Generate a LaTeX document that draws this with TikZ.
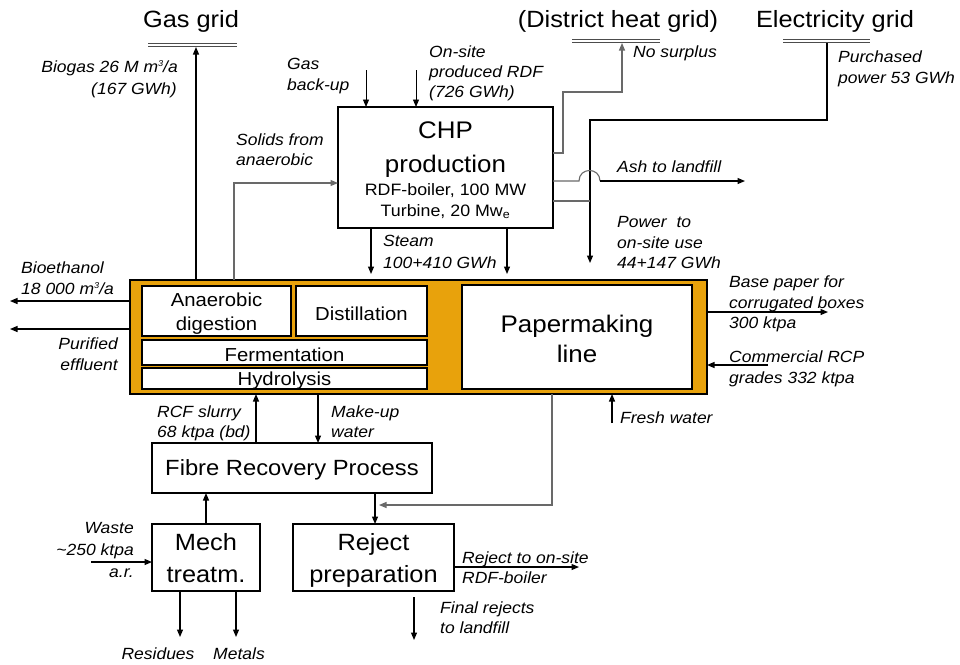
\documentclass[tikz,border=0pt]{standalone}
\usepackage{fontspec}
\setmainfont[FakeStretch=1.08]{Liberation Sans}
\usetikzlibrary{arrows.meta}
\definecolor{orng}{RGB}{232,162,12}
\definecolor{gline}{RGB}{105,105,105}
\newcommand\rslab{\fontsize{16.2}{18}\selectfont\itshape}
\newcommand\rstit{\fontsize{23.5}{28}\selectfont}
\newcommand\rsbig{\fontsize{24}{28}\selectfont}
\newcommand\rsmid{\fontsize{16.5}{20}\selectfont}
\newcommand\rsbox{\fontsize{18.8}{22}\selectfont}
\newcommand\rssup[1]{\raisebox{5.5pt}{\fontsize{8.5}{9}\selectfont #1}}
\begin{document}
\begin{tikzpicture}[x=1pt,y=-1pt,
  box/.style={draw=black,line width=1.4pt,fill=white,anchor=north west,inner sep=0pt,outer sep=0pt},
  arr/.style={line width=1.2pt,-{Triangle[length=7.5pt,width=6pt]}},
  tarr/.style={line width=0.9pt,-{Triangle[length=7.5pt,width=6pt]}},
  garr/.style={arr,draw=gline,line width=1.1pt},
  gl/.style={line width=1.1pt,draw=gline},
  bar/.style={double=white,double distance=2pt,line width=0.9pt,draw=gray!60!black},
  lab/.style={inner sep=0pt,font=\rslab},
  tt/.style={inner sep=0pt,anchor=base,font=\rstit},
  bt/.style={inner sep=0pt,anchor=base},
]
\fill[white] (0,0) rectangle (960,664);
\useasboundingbox (0,0) rectangle (960,664);

% ---------- boxes ----------
\node[box,minimum width=215pt,minimum height=121pt] (chp) at (338,107) {};
\node[draw=black,line width=1.2pt,fill=orng,anchor=north west,inner sep=0pt,outer sep=0pt,minimum width=577pt,minimum height=114pt] (plant) at (130,280) {};
\node[box,minimum width=149pt,minimum height=50pt] (anae) at (142,286) {};
\node[box,minimum width=131pt,minimum height=50pt] (dist) at (296,286) {};
\node[box,minimum width=285pt,minimum height=25pt] (ferm) at (142,340) {};
\node[box,minimum width=285pt,minimum height=21pt] (hydr) at (142,368) {};
\node[box,minimum width=230pt,minimum height=104pt] (pm) at (462,285) {};
\node[box,minimum width=280pt,minimum height=50pt] (fibre) at (152,443) {};
\node[box,minimum width=108pt,minimum height=67pt] (mech) at (152,524) {};
\node[box,minimum width=161pt,minimum height=67pt] (reject) at (293,524) {};

% ---------- box texts ----------
\node[bt,font=\rsbig] (chpA) at (445.5,138) {CHP};
\node[bt,font=\rsbig] (chpB) at (445.5,172) {production};
\node[bt,font=\rsmid] (chpC) at (445.5,195) {RDF-boiler, 100 MW};
\node[bt,font=\rsmid] (chpD) at (445.5,216) {Turbine, 20 Mw\textsubscript{e}};
\node[bt,font=\rsbox] (anaeA) at (216.5,306) {Anaerobic};
\node[bt,font=\rsbox] (anaeB) at (216.5,330) {digestion};
\node[bt,font=\rsbox] (distA) at (361.5,320) {Distillation};
\node[bt,font=\rsbox] (fermA) at (284.5,361) {Fermentation};
\node[bt,font=\rsbox] (hydrA) at (284.5,385) {Hydrolysis};
\node[bt,font=\fontsize{24}{28}\selectfont] (pmA) at (577,332) {Papermaking};
\node[bt,font=\fontsize{24}{28}\selectfont] (pmB) at (577,362) {line};
\node[bt,font=\fontsize{22}{26}\selectfont] (fibA) at (292,475) {Fibre Recovery Process};
\node[bt,font=\fontsize{23.5}{28}\selectfont] (mechA) at (206,550) {Mech};
\node[bt,font=\fontsize{23.5}{28}\selectfont] (mechB) at (206,582) {treatm.};
\node[bt,font=\fontsize{23.5}{28}\selectfont] (rejA) at (373.5,550) {Reject};
\node[bt,font=\fontsize{23.5}{28}\selectfont] (rejB) at (373.5,582) {preparation};

% ---------- grids ----------
\node[tt] (gasgrid) at (191,27) {Gas grid};
\node[tt] (dhgrid) at (618,27) {(District heat grid)};
\node[tt] (elgrid) at (835,27) {Electricity grid};
\coordinate (gbL) at (148,45); \coordinate (gbR) at (237,45);
\coordinate (dbL) at (572,41); \coordinate (dbR) at (660,41);
\coordinate (ebL) at (783,41); \coordinate (ebR) at (870,41);
\draw[bar] (gbL) -- (gbR);
\draw[bar] (dbL) -- (dbR);
\draw[bar] (ebL) -- (ebR);

% ---------- coordinates ----------
\coordinate (bg) at (196,47);
\coordinate (gbt) at (366,70);
\coordinate (rdft) at (416,70);
\coordinate (sol) at (234,183);
\coordinate (st1) at (371,274);
\coordinate (st2) at (507,274);
\coordinate (h1) at (563,153); \coordinate (h2) at (563,92);
\coordinate (h3) at (622,92); \coordinate (h4) at (622,43);
\coordinate (e1) at (827,43); \coordinate (e2) at (827,120);
\coordinate (e3) at (590,120); \coordinate (e4) at (590,263);
\coordinate (p1) at (590,201);
\coordinate (a1) at (579,181); \coordinate (a2) at (600,181); \coordinate (a3) at (745,181);
\coordinate (bio) at (10,301);
\coordinate (eff) at (10,329);
\coordinate (bp) at (828,312);
\coordinate (rcp) at (768,365);
\coordinate (fw) at (612,423);
\coordinate (rcf) at (256,420);
\coordinate (mw) at (318,420);
\coordinate (pr1) at (552,505); \coordinate (pr2) at (379,505);
\coordinate (fr) at (375,510);
\coordinate (ws) at (91,562);
\coordinate (rs) at (180,637);
\coordinate (mt) at (236,637);
\coordinate (ro) at (579,567);
\coordinate (fn0) at (414,597); \coordinate (fn) at (414,640);

% ---------- connectors ----------
\draw[arr] (bg |- plant.north) -- (bg);
\draw[tarr] (gbt) -- (gbt |- chp.north);
\draw[tarr] (rdft) -- (rdft |- chp.north);
\draw[garr] (sol |- plant.north) -- (sol) -- (sol -| chp.west);
\draw[arr] (st1 |- chp.south) -- (st1);
\draw[arr] (st2 |- chp.south) -- (st2);
\draw[garr] (h1 -| chp.east) -- (h1) -- (h2) -- (h3) -- (h4);
\draw[arr] (e1) -- (e2) -- (e3) -- (e4);
\draw[gl] (p1 -| chp.east) -- (p1);
\draw[gl] (a1 -| chp.east) -- (a1) .. controls (579,167) and (600,167) .. (a2);
\draw[arr] (a2) -- (a3);
\draw[arr] (bio -| plant.west) -- (bio);
\draw[arr] (eff -| plant.west) -- (eff);
\draw[arr] (bp -| plant.east) -- (bp);
\draw[arr] (rcp) -- (rcp -| plant.east);
\draw[arr] (fw) -- (fw |- plant.south);
\draw[arr] (rcf |- fibre.north) -- (rcf |- plant.south);
\draw[arr] (mw |- plant.south) -- (mw |- fibre.north);
\draw[garr] (pr1 |- plant.south) -- (pr1) -- (pr2);
\draw[arr] (fr |- fibre.south) -- (fr |- reject.north);
\draw[arr] (mech.north) -- (mech.north |- fibre.south);
\draw[arr] (ws) -- (ws -| mech.west);
\draw[arr] (rs |- mech.south) -- (rs);
\draw[arr] (mt |- mech.south) -- (mt);
\draw[arr] (ro -| reject.east) -- (ro);
\draw[arr] (fn0) -- (fn);

% ---------- labels ----------
\node[lab,anchor=base east] (bg1) at (178,72) {Biogas 26 M m\rssup{3}/a};
\node[lab,anchor=base east] (bg2) at (177,94) {(167 GWh)};
\node[lab,anchor=base west] (gb1) at (287,69) {Gas};
\node[lab,anchor=base west] (gb2) at (287,90) {back-up};
\node[lab,anchor=base west] (os1) at (429,57) {On-site};
\node[lab,anchor=base west] (os2) at (429,77) {produced RDF};
\node[lab,anchor=base west] (os3) at (429,97) {(726 GWh)};
\node[lab,anchor=base west] (so1) at (236,145) {Solids from};
\node[lab,anchor=base west] (so2) at (236,165) {anaerobic};
\node[lab,anchor=base west] (sm1) at (383,246) {Steam};
\node[lab,anchor=base west] (sm2) at (383,268) {100+410 GWh};
\node[lab,anchor=base west] (ns) at (633,57) {No surplus};
\node[lab,anchor=base west] (pu1) at (838,62) {Purchased};
\node[lab,anchor=base west] (pu2) at (838,83) {power 53 GWh};
\node[lab,anchor=base west] (ash) at (617,172) {Ash to landfill};
\node[lab,anchor=base west] (pw1) at (617,227) {Power \ to};
\node[lab,anchor=base west] (pw2) at (617,248) {on-site use};
\node[lab,anchor=base west] (pw3) at (617,268) {44+147 GWh};
\node[lab,anchor=base west] (be1) at (21,273) {Bioethanol};
\node[lab,anchor=base west] (be2) at (21,294) {18 000 m\rssup{3}/a};
\node[lab,anchor=base east] (pf1) at (118,349) {Purified};
\node[lab,anchor=base east] (pf2) at (118,370) {effluent};
\node[lab,anchor=base west] (rc1) at (157,417) {RCF slurry};
\node[lab,anchor=base west] (rc2) at (157,437) {68 ktpa (bd)};
\node[lab,anchor=base west] (mu1) at (331,417) {Make-up};
\node[lab,anchor=base west] (mu2) at (331,437) {water};
\node[lab,anchor=base west] (bp1) at (729,287) {Base paper for};
\node[lab,anchor=base west] (bp2) at (729,308) {corrugated boxes};
\node[lab,anchor=base west] (bp3) at (729,328) {300 ktpa};
\node[lab,anchor=base west] (cr1) at (729,362) {Commercial RCP};
\node[lab,anchor=base west] (cr2) at (729,383) {grades 332 ktpa};
\node[lab,anchor=base west] (fwl) at (620,423) {Fresh water};
\node[lab,anchor=base east] (wa1) at (134,533) {Waste};
\node[lab,anchor=base east] (wa2) at (134,555) {\textasciitilde250 ktpa};
\node[lab,anchor=base east] (wa3) at (134,577) {a.r.};
\node[lab,anchor=base] (res) at (158,659) {Residues};
\node[lab,anchor=base] (met) at (239,659) {Metals};
\node[lab,anchor=base west] (ro1) at (462,563) {Reject to on-site};
\node[lab,anchor=base west] (ro2) at (462,583) {RDF-boiler};
\node[lab,anchor=base west] (fr1) at (440,613) {Final rejects};
\node[lab,anchor=base west] (fr2) at (440,633) {to landfill};
\end{tikzpicture}
\end{document}
